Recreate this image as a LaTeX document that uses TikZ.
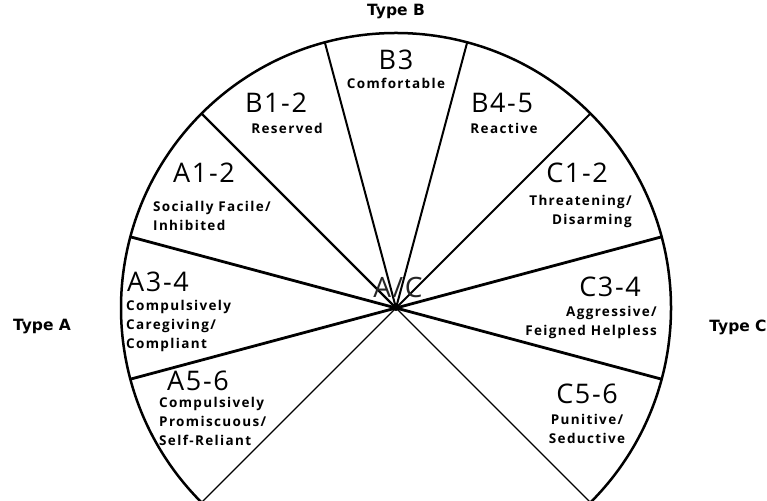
\documentclass[tikz,border=0pt]{standalone}
\usepackage{fontspec}
\setmainfont{Open Sans}
\newfontfamily\spacedfont[LetterSpace=10]{Open Sans}
\newfontfamily\bigfont[LetterSpace=6]{Open Sans}
\newfontfamily\typefont{DejaVu Sans}
\usepackage{tikz}
\usetikzlibrary{calc,positioning}

\tikzset{
  zone/.style={font=\bigfont\fontsize{27}{29}\selectfont, inner sep=0pt},
  zonetext/.style={font=\spacedfont\bfseries\fontsize{13.5}{19}\selectfont, inner sep=0pt},
  typelabel/.style={font=\typefont\bfseries\fontsize{15.5}{17}\selectfont, inner sep=0pt},
}

\begin{document}
\begin{tikzpicture}[x=1pt,y=1pt]
                \useasboundingbox (0,0) rectangle (767,500);
                \clip (0,0) rectangle (767,500);
                \def\r{275pt}
                \coordinate (o) at (396,192);
                % outer arc
                \draw[line width=2.5pt] ($(o)+(-45:\r)$) arc (-45:225:\r);
                % spokes
                \draw[line width=1.2pt] (o) -- ($(o)+(-45:\r)$);
                \draw[line width=2.8pt] (o) -- ($(o)+(-15:\r)$);
                \draw[line width=2.8pt] (o) -- ($(o)+(15:\r)$);
                \draw[line width=1.8pt] (o) -- ($(o)+(45:\r)$);
                \draw[line width=2pt]   (o) -- ($(o)+(75:\r)$);
                \draw[line width=2pt]   (o) -- ($(o)+(105:\r)$);
                \draw[line width=2.4pt] (o) -- ($(o)+(135:\r)$);
                \draw[line width=2.8pt] (o) -- ($(o)+(165:\r)$);
                \draw[line width=2.8pt] (o) -- ($(o)+(195:\r)$);
                \draw[line width=1.2pt] (o) -- ($(o)+(225:\r)$);
                \fill (o) circle (3pt);
                % centre
                \node[zone, text=black!85, font=\bigfont\fontsize{28}{30}\selectfont] (ac) at (398,212) {A/C};
                % types
                \node[typelabel] (typeb) at (396,488) {Type B};
                \node[typelabel] (typea) at (42,173) {Type A};
                \node[typelabel] (typec) at (738,173) {Type C};
                % B sectors
                \node[zone] (b3) at (396,440) {B3};
                \node[zonetext] (b3t) at (396,417) {Comfortable};
                \node[zone] (b12) at (276,397) {B1-2};
                \node[zonetext] (b12t) at (287,372) {Reserved};
                \node[zone] (b45) at (502,397) {B4-5};
                \node[zonetext] (b45t) at (504,372) {Reactive};
                % A sectors
                \node[zone] (a12) at (204,327) {A1-2};
                \node[zonetext, anchor=west, align=left] (a12t) at (153,284) {Socially Facile/\\Inhibited};
                \node[zone] (a34) at (158,218) {A3-4};
                \node[zonetext, anchor=west, align=left] (a34t) at (126,174) {Compulsively\\Caregiving/\\Compliant};
                \node[zone] (a56) at (198,119) {A5-6};
                \node[zonetext, anchor=west, align=left] (a56t) at (159,79) {Compulsively\\Promiscuous/\\Self-Reliant};
                % C sectors
                \node[zone] (c12) at (577,327) {C1-2};
                \node[zonetext, anchor=east, align=right] (c12t) at (632,289) {Threatening/\\Disarming};
                \node[zone] (c34) at (610,213) {C3-4};
                \node[zonetext, anchor=east, align=right] (c34t) at (657,178) {Aggressive/\\Feigned Helpless};
                \node[zone] (c56) at (587,106) {C5-6};
                \node[zonetext, align=center] (c56t) at (587,71) {Punitive/\\Seductive};
            \end{tikzpicture}
\end{document}
